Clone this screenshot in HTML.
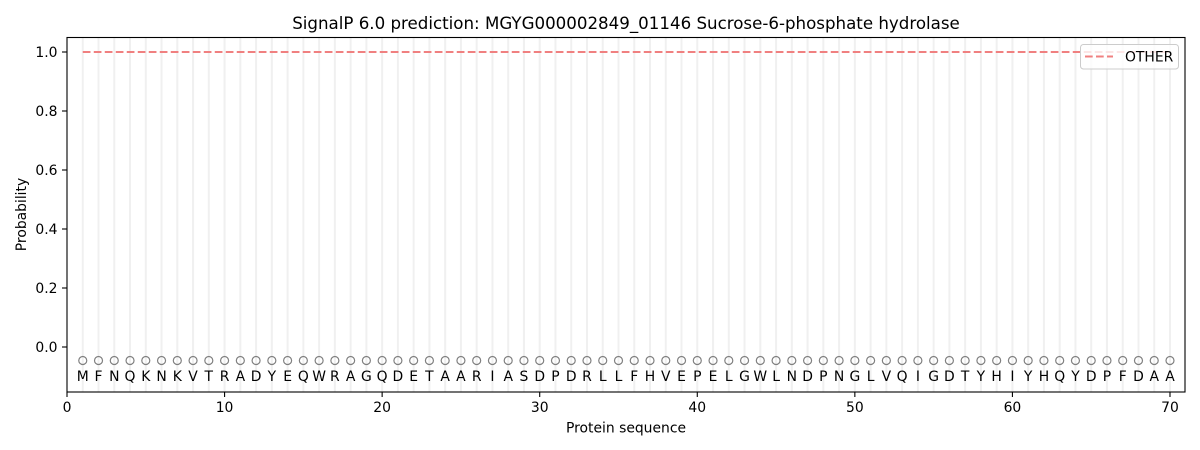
<!DOCTYPE html>
<html><head><meta charset="utf-8"><style>
html,body{margin:0;padding:0;background:#fff;}
svg{display:block;font-family:"DejaVu Sans","Liberation Sans",sans-serif;}
</style></head><body>
<svg width="1200" height="450" viewBox="0 0 1200 450" xmlns="http://www.w3.org/2000/svg">
<rect width="1200" height="450" fill="#fff"/>
<g transform="translate(67,0)">
<g stroke="#f0f0f0" stroke-width="2">
<line x1="15.76" y1="37.5" x2="15.76" y2="392"/><line x1="31.51" y1="37.5" x2="31.51" y2="392"/><line x1="47.27" y1="37.5" x2="47.27" y2="392"/><line x1="63.03" y1="37.5" x2="63.03" y2="392"/><line x1="78.79" y1="37.5" x2="78.79" y2="392"/><line x1="94.54" y1="37.5" x2="94.54" y2="392"/><line x1="110.30" y1="37.5" x2="110.30" y2="392"/><line x1="126.06" y1="37.5" x2="126.06" y2="392"/><line x1="141.81" y1="37.5" x2="141.81" y2="392"/><line x1="157.57" y1="37.5" x2="157.57" y2="392"/>
<line x1="173.33" y1="37.5" x2="173.33" y2="392"/><line x1="189.08" y1="37.5" x2="189.08" y2="392"/><line x1="204.84" y1="37.5" x2="204.84" y2="392"/><line x1="220.60" y1="37.5" x2="220.60" y2="392"/><line x1="236.36" y1="37.5" x2="236.36" y2="392"/><line x1="252.11" y1="37.5" x2="252.11" y2="392"/><line x1="267.87" y1="37.5" x2="267.87" y2="392"/><line x1="283.63" y1="37.5" x2="283.63" y2="392"/><line x1="299.38" y1="37.5" x2="299.38" y2="392"/><line x1="315.14" y1="37.5" x2="315.14" y2="392"/>
<line x1="330.90" y1="37.5" x2="330.90" y2="392"/><line x1="346.65" y1="37.5" x2="346.65" y2="392"/><line x1="362.41" y1="37.5" x2="362.41" y2="392"/><line x1="378.17" y1="37.5" x2="378.17" y2="392"/><line x1="393.93" y1="37.5" x2="393.93" y2="392"/><line x1="409.68" y1="37.5" x2="409.68" y2="392"/><line x1="425.44" y1="37.5" x2="425.44" y2="392"/><line x1="441.20" y1="37.5" x2="441.20" y2="392"/><line x1="456.95" y1="37.5" x2="456.95" y2="392"/><line x1="472.71" y1="37.5" x2="472.71" y2="392"/>
<line x1="488.47" y1="37.5" x2="488.47" y2="392"/><line x1="504.22" y1="37.5" x2="504.22" y2="392"/><line x1="519.98" y1="37.5" x2="519.98" y2="392"/><line x1="535.74" y1="37.5" x2="535.74" y2="392"/><line x1="551.50" y1="37.5" x2="551.50" y2="392"/><line x1="567.25" y1="37.5" x2="567.25" y2="392"/><line x1="583.01" y1="37.5" x2="583.01" y2="392"/><line x1="598.77" y1="37.5" x2="598.77" y2="392"/><line x1="614.52" y1="37.5" x2="614.52" y2="392"/><line x1="630.28" y1="37.5" x2="630.28" y2="392"/>
<line x1="646.04" y1="37.5" x2="646.04" y2="392"/><line x1="661.79" y1="37.5" x2="661.79" y2="392"/><line x1="677.55" y1="37.5" x2="677.55" y2="392"/><line x1="693.31" y1="37.5" x2="693.31" y2="392"/><line x1="709.07" y1="37.5" x2="709.07" y2="392"/><line x1="724.82" y1="37.5" x2="724.82" y2="392"/><line x1="740.58" y1="37.5" x2="740.58" y2="392"/><line x1="756.34" y1="37.5" x2="756.34" y2="392"/><line x1="772.09" y1="37.5" x2="772.09" y2="392"/><line x1="787.85" y1="37.5" x2="787.85" y2="392"/>
<line x1="803.61" y1="37.5" x2="803.61" y2="392"/><line x1="819.36" y1="37.5" x2="819.36" y2="392"/><line x1="835.12" y1="37.5" x2="835.12" y2="392"/><line x1="850.88" y1="37.5" x2="850.88" y2="392"/><line x1="866.64" y1="37.5" x2="866.64" y2="392"/><line x1="882.39" y1="37.5" x2="882.39" y2="392"/><line x1="898.15" y1="37.5" x2="898.15" y2="392"/><line x1="913.91" y1="37.5" x2="913.91" y2="392"/><line x1="929.66" y1="37.5" x2="929.66" y2="392"/><line x1="945.42" y1="37.5" x2="945.42" y2="392"/>
<line x1="961.18" y1="37.5" x2="961.18" y2="392"/><line x1="976.93" y1="37.5" x2="976.93" y2="392"/><line x1="992.69" y1="37.5" x2="992.69" y2="392"/><line x1="1008.45" y1="37.5" x2="1008.45" y2="392"/><line x1="1024.21" y1="37.5" x2="1024.21" y2="392"/><line x1="1039.96" y1="37.5" x2="1039.96" y2="392"/><line x1="1055.72" y1="37.5" x2="1055.72" y2="392"/><line x1="1071.48" y1="37.5" x2="1071.48" y2="392"/><line x1="1087.23" y1="37.5" x2="1087.23" y2="392"/><line x1="1102.99" y1="37.5" x2="1102.99" y2="392"/>
</g>
<g fill="none" stroke="#808080" stroke-width="1.2">
<circle cx="15.76" cy="360.5" r="4"/><circle cx="31.51" cy="360.5" r="4"/><circle cx="47.27" cy="360.5" r="4"/><circle cx="63.03" cy="360.5" r="4"/><circle cx="78.79" cy="360.5" r="4"/><circle cx="94.54" cy="360.5" r="4"/><circle cx="110.30" cy="360.5" r="4"/><circle cx="126.06" cy="360.5" r="4"/><circle cx="141.81" cy="360.5" r="4"/><circle cx="157.57" cy="360.5" r="4"/>
<circle cx="173.33" cy="360.5" r="4"/><circle cx="189.08" cy="360.5" r="4"/><circle cx="204.84" cy="360.5" r="4"/><circle cx="220.60" cy="360.5" r="4"/><circle cx="236.36" cy="360.5" r="4"/><circle cx="252.11" cy="360.5" r="4"/><circle cx="267.87" cy="360.5" r="4"/><circle cx="283.63" cy="360.5" r="4"/><circle cx="299.38" cy="360.5" r="4"/><circle cx="315.14" cy="360.5" r="4"/>
<circle cx="330.90" cy="360.5" r="4"/><circle cx="346.65" cy="360.5" r="4"/><circle cx="362.41" cy="360.5" r="4"/><circle cx="378.17" cy="360.5" r="4"/><circle cx="393.93" cy="360.5" r="4"/><circle cx="409.68" cy="360.5" r="4"/><circle cx="425.44" cy="360.5" r="4"/><circle cx="441.20" cy="360.5" r="4"/><circle cx="456.95" cy="360.5" r="4"/><circle cx="472.71" cy="360.5" r="4"/>
<circle cx="488.47" cy="360.5" r="4"/><circle cx="504.22" cy="360.5" r="4"/><circle cx="519.98" cy="360.5" r="4"/><circle cx="535.74" cy="360.5" r="4"/><circle cx="551.50" cy="360.5" r="4"/><circle cx="567.25" cy="360.5" r="4"/><circle cx="583.01" cy="360.5" r="4"/><circle cx="598.77" cy="360.5" r="4"/><circle cx="614.52" cy="360.5" r="4"/><circle cx="630.28" cy="360.5" r="4"/>
<circle cx="646.04" cy="360.5" r="4"/><circle cx="661.79" cy="360.5" r="4"/><circle cx="677.55" cy="360.5" r="4"/><circle cx="693.31" cy="360.5" r="4"/><circle cx="709.07" cy="360.5" r="4"/><circle cx="724.82" cy="360.5" r="4"/><circle cx="740.58" cy="360.5" r="4"/><circle cx="756.34" cy="360.5" r="4"/><circle cx="772.09" cy="360.5" r="4"/><circle cx="787.85" cy="360.5" r="4"/>
<circle cx="803.61" cy="360.5" r="4"/><circle cx="819.36" cy="360.5" r="4"/><circle cx="835.12" cy="360.5" r="4"/><circle cx="850.88" cy="360.5" r="4"/><circle cx="866.64" cy="360.5" r="4"/><circle cx="882.39" cy="360.5" r="4"/><circle cx="898.15" cy="360.5" r="4"/><circle cx="913.91" cy="360.5" r="4"/><circle cx="929.66" cy="360.5" r="4"/><circle cx="945.42" cy="360.5" r="4"/>
<circle cx="961.18" cy="360.5" r="4"/><circle cx="976.93" cy="360.5" r="4"/><circle cx="992.69" cy="360.5" r="4"/><circle cx="1008.45" cy="360.5" r="4"/><circle cx="1024.21" cy="360.5" r="4"/><circle cx="1039.96" cy="360.5" r="4"/><circle cx="1055.72" cy="360.5" r="4"/><circle cx="1071.48" cy="360.5" r="4"/><circle cx="1087.23" cy="360.5" r="4"/><circle cx="1102.99" cy="360.5" r="4"/>
</g>
<text font-size="13.9" fill="#000" text-anchor="middle" y="380.8" x="15.76 31.51 47.27 63.03 78.79 94.54 110.30 126.06 141.81 157.57 173.33 189.08 204.84 220.60 236.36 252.11 267.87 283.63 299.38 315.14 330.90 346.65 362.41 378.17 393.93 409.68 425.44 441.20 456.95 472.71 488.47 504.22 519.98 535.74 551.50 567.25 583.01 598.77 614.52 630.28 646.04 661.79 677.55 693.31 709.07 724.82 740.58 756.34 772.09 787.85 803.61 819.36 835.12 850.88 866.64 882.39 898.15 913.91 929.66 945.42 961.18 976.93 992.69 1008.45 1024.21 1039.96 1055.72 1071.48 1087.23 1102.99">MFNQKNKVTRADYEQWRAGQDETAARIASDPDRLLFHVEPELGWLNDPNGLVQIGDTYHIYHQYDPFDAA</text>
<line x1="15.76" y1="52" x2="1102.99" y2="52" stroke="#f08080" stroke-width="2.08" stroke-dasharray="7.7,3.3"/>
</g>
<!-- legend -->
<rect x="1080.5" y="44.5" width="98" height="24.5" rx="3" fill="#fff" fill-opacity="0.8" stroke="#cccccc" stroke-width="1"/>
<line x1="1085" y1="56.5" x2="1113" y2="56.5" stroke="#f08080" stroke-width="2.08" stroke-dasharray="7.7,3.3"/>
<text x="1125" y="61.5" font-size="13.9" fill="#000">OTHER</text>
<!-- axes frame -->
<rect x="67" y="37.5" width="1118" height="354.5" fill="none" stroke="#000" stroke-width="1.1"/>
<g stroke="#000" stroke-width="1.1">
<line x1="62" y1="52" x2="67" y2="52"/><line x1="62" y1="111" x2="67" y2="111"/><line x1="62" y1="170" x2="67" y2="170"/><line x1="62" y1="229" x2="67" y2="229"/><line x1="62" y1="288" x2="67" y2="288"/><line x1="62" y1="347" x2="67" y2="347"/>
<line x1="67" y1="392" x2="67" y2="397"/><line x1="224.57" y1="392" x2="224.57" y2="397"/><line x1="382.14" y1="392" x2="382.14" y2="397"/><line x1="539.71" y1="392" x2="539.71" y2="397"/><line x1="697.28" y1="392" x2="697.28" y2="397"/><line x1="854.85" y1="392" x2="854.85" y2="397"/><line x1="1012.42" y1="392" x2="1012.42" y2="397"/><line x1="1169.99" y1="392" x2="1169.99" y2="397"/>
</g>
<g font-size="13.9" fill="#000" text-anchor="end">
<text x="57.5" y="57">1.0</text><text x="57.5" y="116">0.8</text><text x="57.5" y="175">0.6</text><text x="57.5" y="234">0.4</text><text x="57.5" y="293">0.2</text><text x="57.5" y="352">0.0</text>
</g>
<g font-size="13.9" fill="#000" text-anchor="middle">
<text x="67" y="412">0</text><text x="224.57" y="412">10</text><text x="382.14" y="412">20</text><text x="539.71" y="412">30</text><text x="697.28" y="412">40</text><text x="854.85" y="412">50</text><text x="1012.42" y="412">60</text><text x="1169.99" y="412">70</text>
<text x="626" y="432.5">Protein sequence</text>
<text transform="translate(25.8,214.5) rotate(-90)">Probability</text>
<text x="626" y="29" font-size="16.67">SignalP 6.0 prediction: MGYG000002849_01146 Sucrose-6-phosphate hydrolase</text>
</g>
</svg>
</body></html>
